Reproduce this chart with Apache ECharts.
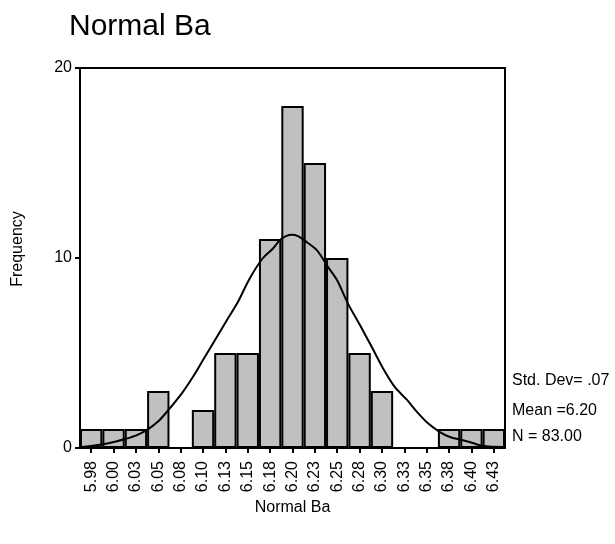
<!DOCTYPE html>
<html>
<head>
<meta charset="utf-8">
<script src="https://cdn.jsdelivr.net/npm/echarts@6/dist/echarts.min.js"></script>
<style>
html,body{margin:0;padding:0;background:#fff;}
#chart{width:615px;height:544px;}
</style>
</head>
<body>
<div id="chart"></div>
<script>
// Bin labels (bin centres, rounded as printed)
const binLabels = ['5.98','6.00','6.03','6.05','6.08','6.10','6.13','6.15','6.18','6.20','6.23','6.25','6.28','6.30','6.33','6.35','6.38','6.40','6.43'];
// Frequency per bin
const frequencies = [1,1,1,3,0,2,5,5,11,18,15,10,5,3,0,0,1,1,1];
// Normal curve: x (Normal Ba) and y (frequency)
const curveX = [5.9647,5.9882,6.0016,6.0128,6.0262,6.0374,6.0497,6.0597,6.0765,6.0888,6.1000,6.1111,6.1268,6.1380,6.1525,6.1670,6.1782,6.1860,6.1927,6.1994,6.2061,6.2140,6.2274,6.2386,6.2497,6.2620,6.2754,6.2888,6.3011,6.3145,6.3280,6.3391,6.3514,6.3648,6.3760,6.3894,6.4017,6.4129,6.4353];
const curveY = [0.05,0.2,0.33,0.47,0.68,0.95,1.39,1.91,2.89,3.75,4.63,5.5,6.74,7.6,8.95,10.0,10.5,10.95,11.15,11.22,11.15,10.9,10.4,9.6,8.84,7.6,6.47,5.3,4.2,3.2,2.53,1.9,1.3,0.84,0.58,0.42,0.26,0.1,0.05];
const yTicks = [0,10,20];
const statsLines = ['Std. Dev= .07','Mean =6.20','N = 83.00'];
const titleText = 'Normal Ba';
const xTitle = 'Normal Ba';
const yTitle = 'Frequency';
const binMin = 5.9625, binMax = 6.4375;

const FONT = 'Liberation Sans, Arial, sans-serif';
const chart = echarts.init(document.getElementById('chart'), null, {renderer:'canvas'});
const curveData = curveX.map((x,i)=>[x, curveY[i]]);

chart.setOption({
  animation:false,
  backgroundColor:'#fff',
  grid:{left:80, top:68, width:425, height:380, containLabel:false, outerBoundsMode:'none',
        show:true, borderColor:'#000', borderWidth:2, backgroundColor:'transparent'},
  xAxis:[{
    type:'category', data:binLabels, boundaryGap:true,
    name:xTitle, nameLocation:'middle', nameGap:52,
    nameTextStyle:{fontFamily:FONT, fontSize:16, color:'#000'},
    axisLine:{lineStyle:{color:'#000', width:2}},
    axisTick:{show:true, alignWithLabel:true, length:5, lineStyle:{color:'#000', width:2}},
    axisLabel:{rotate:90, interval:0, margin:13, fontFamily:FONT, fontSize:16, color:'#000'},
    splitLine:{show:false}
  },{
    type:'value', min:binMin, max:binMax, show:false
  }],
  yAxis:{
    type:'value', min:yTicks[0], max:yTicks[yTicks.length-1], interval:10,
    axisLine:{show:true, lineStyle:{color:'#000', width:2}},
    axisTick:{show:true, length:5, lineStyle:{color:'#000', width:2}},
    axisLabel:{margin:8, fontFamily:FONT, fontSize:16, color:'#000'},
    splitLine:{show:false}
  },
  series:[{
    type:'bar', xAxisIndex:0, data:frequencies, barCategoryGap:'0%',
    itemStyle:{color:'#c0c0c0', borderColor:'#000', borderWidth:2},
    silent:true
  },{
    type:'line', xAxisIndex:1, data:curveData, showSymbol:false, smooth:0.3,
    lineStyle:{color:'#000', width:2}, z:5, silent:true
  }],
  graphic:[
    {type:'text', left:69, top:12, style:{text:titleText, fontFamily:FONT, fontSize:30, fill:'#000'}},
    {type:'text', x:18, y:249, rotation:Math.PI/2, style:{text:yTitle, fontFamily:FONT, fontSize:16, fill:'#000', align:'center', verticalAlign:'middle'}},
    {type:'text', x:512, y:381, style:{text:statsLines[0], fontFamily:FONT, fontSize:16, fill:'#000', verticalAlign:'middle'}},
    {type:'text', x:512, y:411, style:{text:statsLines[1], fontFamily:FONT, fontSize:16, fill:'#000', verticalAlign:'middle'}},
    {type:'text', x:512, y:437, style:{text:statsLines[2], fontFamily:FONT, fontSize:16, fill:'#000', verticalAlign:'middle'}}
  ]
});
</script>
</body>
</html>
